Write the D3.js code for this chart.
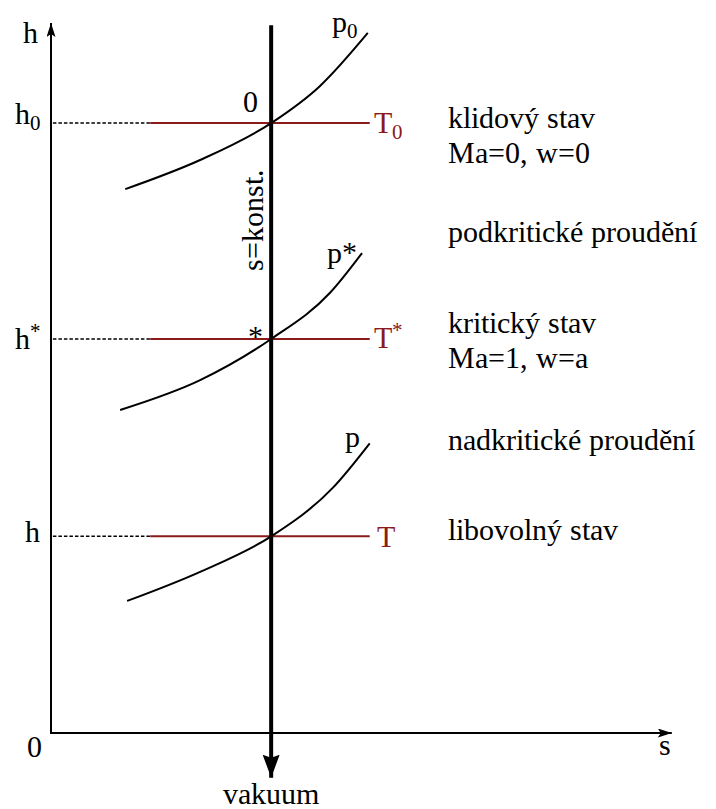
<!DOCTYPE html>
<html>
<head>
<meta charset="utf-8">
<script src="https://cdn.jsdelivr.net/npm/d3@7"></script>
<style>
  @font-face {
    font-family: "DiagramSerif";
    src: local("Liberation Serif"), local("LiberationSerif"), local("LiberationSerif-Regular");
  }
</style>
</head>
<body style="margin:0">
<svg id="chart" width="716" height="809"></svg>
<script>
// h–s diagram: isentropic expansion through stagnation, critical and arbitrary states

// entropy / enthalpy extents (arbitrary units)
const sExtent = [0, 10];
const hExtent = [0, 10];
const sAxisEnd = 9.7;
const hAxisEnd = 10.0;

// isentrope s = const, extended below the origin toward vacuum
const sConst = 3.44;
const isentropeH = [9.97, -0.63];

// state levels (h0, h*, h)
const levelLabels = ["0", "*", ""];
const levelH = [8.59, 5.55, 2.77];
const isothermStart = 1.55;
const isothermEnd = 4.98;

// isobars p0, p*, p
const isobarNames = ["p0", "p*", "p"];
const p0S = [1.16, 2.33, 3.44, 4.20, 4.95];
const p0H = [7.66, 8.07, 8.59, 9.11, 9.86];
const pStarS = [1.08, 2.33, 3.44, 4.36, 4.86];
const pStarH = [4.55, 4.97, 5.55, 6.20, 6.76];
const pS = [1.19, 2.33, 3.44, 4.41, 4.98];
const pH = [1.86, 2.27, 2.77, 3.46, 4.08];

// regime descriptions on the right
const descLines = ["klidový stav", "Ma=0, w=0", "podkritické proudění",
                   "kritický stav", "Ma=1, w=a", "nadkritické proudění", "libovolný stav"];
const descBaselines = [128, 163, 242, 333, 368, 450, 540];

const RED = "#8b1a1a";
const FS = 30;
const FONT = '"DiagramSerif", "Liberation Serif"';

const svg = d3.select("#chart");
const x = d3.scaleLinear().domain(sExtent).range([51, 691]);
const y = d3.scaleLinear().domain(hExtent).range([733, 23]);

// arrowhead markers
const defs = svg.append("defs");
function marker(id, w, h) {
  defs.append("marker")
    .attr("id", id)
    .attr("viewBox", `0 0 ${w} ${h}`)
    .attr("refX", w).attr("refY", h / 2)
    .attr("markerWidth", w).attr("markerHeight", h)
    .attr("markerUnits", "userSpaceOnUse")
    .attr("orient", "auto")
    .append("path")
    .attr("d", `M0,0L${w},${h / 2}L0,${h}L3,${h / 2}Z`)
    .attr("fill", "#000");
}
marker("arrSmall", 14, 9);
marker("arrBig", 23, 17);

// axes
svg.append("line")
  .attr("x1", x(0)).attr("y1", y(0) + 1)
  .attr("x2", x(0)).attr("y2", y(hAxisEnd))
  .attr("stroke", "#000").attr("stroke-width", 2)
  .attr("marker-end", "url(#arrSmall)");
svg.append("line")
  .attr("x1", x(0) - 1).attr("y1", y(0))
  .attr("x2", x(sAxisEnd)).attr("y2", y(0))
  .attr("stroke", "#000").attr("stroke-width", 2)
  .attr("marker-end", "url(#arrSmall)");

// dashed level guides and isotherms
const levels = levelH.map((h, i) => ({ h, label: levelLabels[i] }));
svg.selectAll("line.guide").data(levels).join("line")
  .attr("class", "guide")
  .attr("x1", x(0.03)).attr("x2", x(isothermStart))
  .attr("y1", d => y(d.h)).attr("y2", d => y(d.h))
  .attr("stroke", "#000").attr("stroke-width", 1.5)
  .attr("stroke-dasharray", "3.5,2");
svg.selectAll("line.iso").data(levels).join("line")
  .attr("class", "iso")
  .attr("x1", x(isothermStart)).attr("x2", x(isothermEnd))
  .attr("y1", d => y(d.h)).attr("y2", d => y(d.h))
  .attr("stroke", RED).attr("stroke-width", 2);

// isobars
const isobars = [
  { name: isobarNames[0], s: p0S, h: p0H },
  { name: isobarNames[1], s: pStarS, h: pStarH },
  { name: isobarNames[2], s: pS, h: pH }
];
const line = d3.line().x(d => x(d[0])).y(d => y(d[1])).curve(d3.curveMonotoneX);
svg.selectAll("path.isobar").data(isobars).join("path")
  .attr("class", "isobar")
  .attr("d", d => line(d.s.map((s, i) => [s, d.h[i]])))
  .attr("fill", "none").attr("stroke", "#000").attr("stroke-width", 2);

// isentrope toward vacuum
svg.append("line")
  .attr("x1", x(sConst)).attr("x2", x(sConst))
  .attr("y1", y(isentropeH[0])).attr("y2", y(isentropeH[1]))
  .attr("stroke", "#000").attr("stroke-width", 4)
  .attr("marker-end", "url(#arrBig)");

// text helpers
function label(xp, yp, main, sub, sup, color, anchor) {
  const t = svg.append("text")
    .attr("x", xp).attr("y", yp)
    .style("font-family", FONT)
    .attr("font-size", FS)
    .attr("text-anchor", anchor || "start")
    .attr("fill", color || "#000");
  t.append("tspan").text(main);
  if (sub) t.append("tspan").attr("font-size", FS * 0.7).attr("dy", 6).text(sub);
  if (sup) t.append("tspan").attr("font-size", FS * 0.7).attr("dy", -11).text(sup);
  return t;
}

// axis labels
label(23, 43, "h");
label(27, 757, "0");
label(659, 755, "s");
label(x(sConst), 804, "vakuum", null, null, "#000", "middle");

// level labels on the h axis
label(15, y(levelH[0]) + 1, "h", "0");
label(15, y(levelH[1]) + 10, "h", null, "*");
label(25, y(levelH[2]) + 6, "h");

// isotherm labels
label(x(isothermEnd) + 4, y(levelH[0]) + 10, "T", "0", null, RED);
label(x(isothermEnd) + 4, y(levelH[1]) + 9, "T", null, "*", RED);
label(x(isothermEnd) + 7, y(levelH[2]) + 11, "T", null, null, RED);

// state markers at the intersections
label(x(sConst) - 28, y(levelH[0]) - 11, levelLabels[0]);
label(x(sConst) - 23, y(levelH[1]) + 8, levelLabels[1]);

// isobar labels
label(332, 32, "p", "0");
label(327, 263, "p*");
label(345, 447, "p");

// s = konst. along the isentrope
svg.append("text")
  .attr("transform", `translate(${x(sConst) - 8},${220}) rotate(-90)`)
  .attr("text-anchor", "middle")
  .style("font-family", FONT)
  .attr("font-size", FS)
  .text("s=konst.");

// regime descriptions
svg.selectAll("text.desc").data(descLines).join("text")
  .attr("class", "desc")
  .attr("x", 448)
  .attr("y", (d, i) => descBaselines[i])
  .style("font-family", FONT)
  .attr("font-size", FS)
  .text(d => d);
</script>
</body>
</html>
